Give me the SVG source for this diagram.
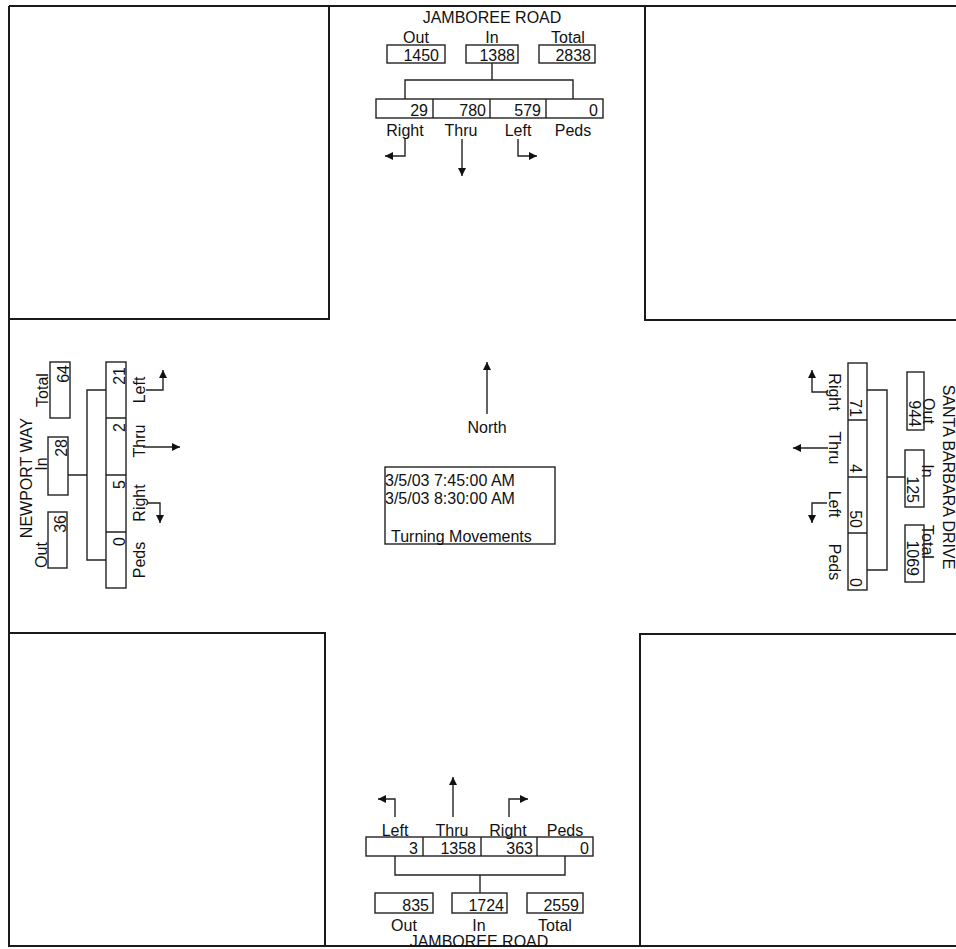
<svg xmlns="http://www.w3.org/2000/svg" width="956" height="949" viewBox="0 0 956 949">
<defs>
<style>
.t{font-family:"Liberation Sans",Arial,sans-serif;font-size:16px;fill:#111}
.m{text-anchor:middle}
.e{text-anchor:end}
.bx{fill:none;stroke:#222;stroke-width:1.4}
.ln{fill:none;stroke:#222;stroke-width:1.4}
.ar{fill:none;stroke:#222;stroke-width:1.4;marker-end:url(#ah)}
.fr{fill:none;stroke:#1a1a1a;stroke-width:2}
</style>
<marker id="ah" markerWidth="10" markerHeight="10" refX="8" refY="4" orient="auto" markerUnits="userSpaceOnUse"><path d="M0,0 L8,4 L0,8 z" fill="#111"/></marker>
</defs>
<rect width="956" height="949" fill="#fff"/>
<g id="frame">
<path class="fr" d="M9,6 H956 M9,6 V946 H956"/>
<path class="fr" d="M329,6 V319 H9"/>
<path class="fr" d="M645,6 V320 H956"/>
<path class="fr" d="M9,633 H325 V946"/>
<path class="fr" d="M956,634 H640 V946"/>
</g>

<!-- North approach -->
<g id="north-approach">
<text class="t m" x="492" y="23">JAMBOREE ROAD</text>
<g id="n-out"><text class="t m" x="416" y="43">Out</text><rect class="bx" x="387" y="45" width="58" height="18"/><text class="t e" x="439" y="61">1450</text></g>
<g id="n-in"><text class="t m" x="492" y="43">In</text><rect class="bx" x="466" y="45" width="52" height="18"/><text class="t e" x="515" y="61">1388</text></g>
<g id="n-total"><text class="t m" x="568" y="43">Total</text><rect class="bx" x="539" y="45" width="56" height="18"/><text class="t e" x="591" y="61">2838</text></g>
<g id="n-moves">
<rect class="bx" x="376" y="99" width="227" height="19"/>
<path class="ln" d="M433,99 V118 M490,99 V118 M546,99 V118"/>
<text class="t e" x="428" y="116">29</text>
<text class="t e" x="486" y="116">780</text>
<text class="t e" x="541" y="116">579</text>
<text class="t e" x="598" y="116">0</text>
<text class="t m" x="405" y="136">Right</text>
<text class="t m" x="461" y="136">Thru</text>
<text class="t m" x="518" y="136">Left</text>
<text class="t m" x="573" y="136">Peds</text>
</g>
</g>

<!-- West approach -->
<g id="west-approach">
<text class="t m" transform="translate(32,478) rotate(-90)">NEWPORT WAY</text>
<g id="w-out"><text class="t m" transform="translate(47,555) rotate(-90)">Out</text><rect class="bx" x="48" y="512" width="19" height="56"/><text class="t e" transform="translate(66,515) rotate(-90)">36</text></g>
<g id="w-in"><text class="t m" transform="translate(47,464) rotate(-90)">In</text><rect class="bx" x="48" y="437" width="20" height="58"/><text class="t e" transform="translate(67,439) rotate(-90)">28</text></g>
<g id="w-total"><text class="t m" transform="translate(48,390) rotate(-90)">Total</text><rect class="bx" x="50" y="362" width="20" height="56"/><text class="t e" transform="translate(69,365) rotate(-90)">64</text></g>
<g id="w-moves">
<rect class="bx" x="106" y="362" width="20" height="226"/>
<path class="ln" d="M106,418 H126 M106,475 H126 M106,532 H126"/>
<text class="t e" transform="translate(125,367) rotate(-90)">21</text>
<text class="t e" transform="translate(125,423) rotate(-90)">2</text>
<text class="t e" transform="translate(125,480) rotate(-90)">5</text>
<text class="t e" transform="translate(125,537) rotate(-90)">0</text>
<text class="t m" transform="translate(145,390) rotate(-90)">Left</text>
<text class="t m" transform="translate(145,441) rotate(-90)">Thru</text>
<text class="t m" transform="translate(145,503) rotate(-90)">Right</text>
<text class="t m" transform="translate(145,560) rotate(-90)">Peds</text>
</g>
</g>

<!-- East approach -->
<g id="east-approach">
<text class="t m" transform="translate(943,477) rotate(90)">SANTA BARBARA DRIVE</text>
<g id="e-out"><text class="t m" transform="translate(923,411) rotate(90)">Out</text><rect class="bx" x="907" y="372" width="17" height="58"/><text class="t e" transform="translate(909,427) rotate(90)">944</text></g>
<g id="e-in"><text class="t m" transform="translate(922,471) rotate(90)">In</text><rect class="bx" x="905" y="450" width="19" height="57"/><text class="t e" transform="translate(907,503) rotate(90)">125</text></g>
<g id="e-total"><text class="t m" transform="translate(922,542) rotate(90)">Total</text><rect class="bx" x="905" y="525" width="19" height="57"/><text class="t e" transform="translate(907,576) rotate(90)">1069</text></g>
<g id="e-moves">
<rect class="bx" x="848" y="363" width="19" height="227"/>
<path class="ln" d="M848,420 H867 M848,477 H867 M848,533 H867"/>
<text class="t e" transform="translate(850,417) rotate(90)">71</text>
<text class="t e" transform="translate(850,473) rotate(90)">4</text>
<text class="t e" transform="translate(850,528) rotate(90)">50</text>
<text class="t e" transform="translate(850,587) rotate(90)">0</text>
<text class="t m" transform="translate(829,392) rotate(90)">Right</text>
<text class="t m" transform="translate(829,448) rotate(90)">Thru</text>
<text class="t m" transform="translate(829,504) rotate(90)">Left</text>
<text class="t m" transform="translate(829,562) rotate(90)">Peds</text>
</g>
</g>

<!-- South approach -->
<g id="south-approach">
<g id="s-moves">
<text class="t m" x="395" y="836">Left</text>
<text class="t m" x="452" y="836">Thru</text>
<text class="t m" x="508" y="836">Right</text>
<text class="t m" x="565" y="836">Peds</text>
<rect class="bx" x="366" y="837" width="227" height="19"/>
<path class="ln" d="M423,837 V856 M481,837 V856 M537,837 V856"/>
<text class="t e" x="418" y="854">3</text>
<text class="t e" x="476" y="854">1358</text>
<text class="t e" x="533" y="854">363</text>
<text class="t e" x="589" y="854">0</text>
</g>
<g id="s-out"><rect class="bx" x="375" y="893" width="58" height="20"/><text class="t e" x="429" y="911">835</text><text class="t m" x="404" y="931">Out</text></g>
<g id="s-in"><rect class="bx" x="452" y="893" width="55" height="20"/><text class="t e" x="504" y="911">1724</text><text class="t m" x="479" y="931">In</text></g>
<g id="s-total"><rect class="bx" x="527" y="893" width="56" height="20"/><text class="t e" x="579" y="911">2559</text><text class="t m" x="555" y="931">Total</text></g>
<text class="t m" x="479" y="947">JAMBOREE ROAD</text>
</g>

<!-- Center -->
<g id="north-indicator">
<text class="t m" x="487" y="433">North</text>
</g>
<g id="info-box">
<rect class="bx" x="385" y="467" width="170" height="77"/>
<text class="t" x="385" y="486">3/5/03 7:45:00 AM</text>
<text class="t" x="385" y="504">3/5/03 8:30:00 AM</text>
<text class="t" x="391" y="542">Turning Movements</text>
</g>

<g id="connectors">
<!-- north -->
<path class="ln" d="M492,63 V80 M405,99 V80 H573 V99"/>
<path class="ar" d="M405,139 V156 H385"/>
<path class="ar" d="M462,139 V176"/>
<path class="ar" d="M518,139 V156 H537"/>
<!-- west -->
<path class="ln" d="M68,475 H87 M106,390 H87 V560 H106"/>
<path class="ar" d="M146,390 H163 V370"/>
<path class="ar" d="M143,447 H180"/>
<path class="ar" d="M147,503 H160 V523"/>
<!-- east -->
<path class="ln" d="M905,477 H887 M867,390 H887 V570 H867"/>
<path class="ar" d="M828,392 H812 V370"/>
<path class="ar" d="M828,448 H793"/>
<path class="ar" d="M827,503 H812 V523"/>
<!-- south -->
<path class="ln" d="M480,893 V875 M395,856 V875 H565 V856"/>
<path class="ar" d="M395,817 V799 H378"/>
<path class="ar" d="M453,817 V777"/>
<path class="ar" d="M509,817 V799 H528"/>
<!-- north indicator -->
<path class="ar" d="M487,414 V362"/>
</g>
</svg>
